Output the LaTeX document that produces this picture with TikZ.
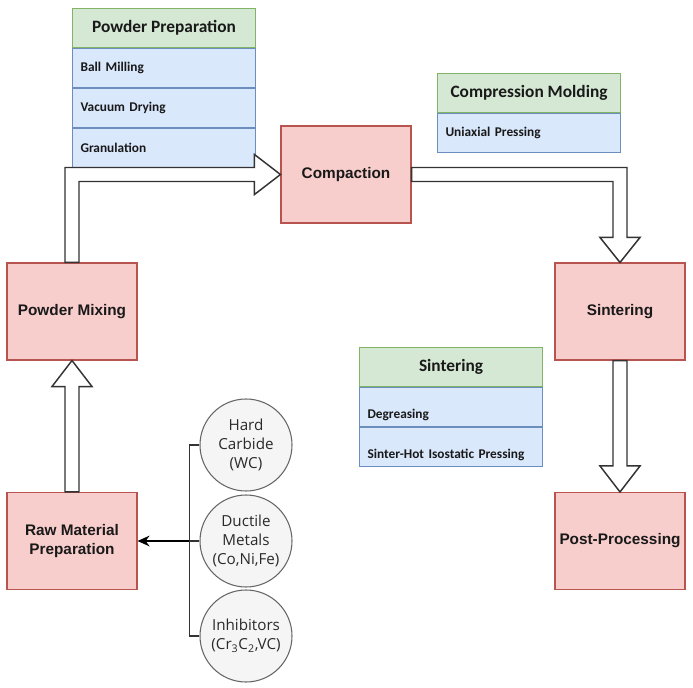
\documentclass[tikz,border=0pt]{standalone}
\usepackage{fontspec}
\setmainfont{Liberation Sans}
\newfontfamily\tabfont{Carlito}
\newfontfamily\circfont{Open Sans}
\usetikzlibrary{calc,arrows.meta}
\definecolor{pinkfill}{HTML}{F8CECC}
\definecolor{pinkdraw}{HTML}{B85450}
\definecolor{greenfill}{HTML}{D5E8D4}
\definecolor{greendraw}{HTML}{82B366}
\definecolor{bluefill}{HTML}{DAE8FC}
\definecolor{bluedraw}{HTML}{6C8EBF}
\definecolor{greyfill}{HTML}{F5F5F5}
\definecolor{greydraw}{HTML}{666666}
\definecolor{darktext}{HTML}{2A2A2A}
\tikzset{
  procbox/.style={rectangle, draw=pinkdraw, fill=pinkfill, line width=0.8pt,
    minimum width=97.5pt, minimum height=72.75pt, align=center,
    font=\fontsize{11.5}{14}\selectfont\bfseries, text=black!90},
  hdr/.style={rectangle, draw=greendraw, fill=greenfill, line width=0.8pt,
    minimum width=137.25pt, minimum height=29.25pt, inner sep=0pt,
    font=\tabfont\fontsize{13}{15}\selectfont\bfseries, text=black!90},
  rowbox/.style={rectangle, draw=bluedraw, fill=bluefill, line width=0.8pt,
    text width=125.25pt, inner xsep=6pt, inner ysep=0pt, align=left,
    minimum height=29.25pt, font=\tabfont\fontsize{10}{12}\selectfont\bfseries, text=black!90},
  rowlow/.style={rowbox, text height=19pt, text depth=2pt},
  circ/.style={circle, draw=greydraw, fill=greyfill, line width=0.8pt,
    minimum size=69pt, inner sep=0pt, align=center,
    font=\circfont\fontsize{11.4}{14.25}\selectfont, text=darktext},
  blockarrow/.style={draw=black!80, fill=white, line width=1.1pt, line join=miter},
}
\begin{document}
\begin{tikzpicture}[x=0.75pt,y=-0.75pt]
\useasboundingbox (0,0) rectangle (693,688);
\fill[white] (0,0) rectangle (693,688);

% process boxes
\node[procbox] (comp) at (346,174.5) {Compaction};
\node[procbox] (mix) at (72,311.5) {Powder Mixing};
\node[procbox] (sint) at (620,311.5) {Sintering};
\node[procbox] (post) at (620,541) {Post-Processing};
\node[procbox] (raw) at (72,541) {Raw Material\\Preparation};

% tables
\node[hdr, anchor=north west] (pp) at (72,8) {Powder Preparation};
\node[rowbox, anchor=north west] (pp1) at (pp.south west) {Ball Milling};
\node[rowbox, anchor=north west] (pp2) at (pp1.south west) {Vacuum Drying};
\node[rowbox, anchor=north west] (pp3) at (pp2.south west) {Granulation};

\node[hdr, anchor=north west] (cm) at (437,73) {Compression Molding};
\node[rowbox, anchor=north west] (cm1) at (cm.south west) {Uniaxial Pressing};

\node[hdr, anchor=north west] (st) at (359,347) {Sintering};
\node[rowlow, anchor=north west] (st1) at (st.south west) {Degreasing};
\node[rowlow, anchor=north west] (st2) at (st1.south west) {Sinter-Hot Isostatic Pressing};

% circles
\node[circ] (c1) at (246,445) {Hard\\Carbide\\(WC)};
\node[circ] (c2) at (246,541) {Ductile\\Metals\\(Co,Ni,Fe)};
\node[circ] (c3) at (246,636) {Inhibitors\\(Cr\textsubscript{3}C\textsubscript{2},VC)};

% bracket and arrow
\coordinate (br) at ($(c2.west)+(-10,0)$);
\draw[black!80, line width=0.8pt] (c1.west) -- ++(-10,0) |- (c3.west);
\draw[black!80, line width=0.8pt] (c2.west) -- (br);
\draw[black, line width=1.3pt, -{Stealth[length=9pt,width=8pt]}] (br) -- (raw.east);

% block arrows
\draw[blockarrow] ($(raw.north)+(-7,0)$) -- ($(mix.south)+(-7,26)$) -- ($(mix.south)+(-20,26)$)
  -- (mix.south) -- ($(mix.south)+(20,26)$) -- ($(mix.south)+(7,26)$) -- ($(raw.north)+(7,0)$) -- cycle;

\draw[blockarrow] ($(mix.north)+(-7,0)$) -- ($(mix.north |- comp.west)+(-7,-7)$)
  -- ($(comp.west)+(-26,-7)$) -- ($(comp.west)+(-26,-20)$) -- (comp.west)
  -- ($(comp.west)+(-26,20)$) -- ($(comp.west)+(-26,7)$)
  -- ($(mix.north |- comp.west)+(7,7)$) -- ($(mix.north)+(7,0)$) -- cycle;

\draw[blockarrow] ($(comp.east)+(0,-7)$) -- ($(sint.north |- comp.east)+(7,-7)$)
  -- ($(sint.north)+(7,-25)$) -- ($(sint.north)+(20,-25)$) -- (sint.north)
  -- ($(sint.north)+(-20,-25)$) -- ($(sint.north)+(-7,-25)$)
  -- ($(sint.north |- comp.east)+(-7,7)$) -- ($(comp.east)+(0,7)$) -- cycle;

\draw[blockarrow] ($(sint.south)+(-7,0)$) -- ($(post.north)+(-7,-26)$) -- ($(post.north)+(-20,-26)$)
  -- (post.north) -- ($(post.north)+(20,-26)$) -- ($(post.north)+(7,-26)$) -- ($(sint.south)+(7,0)$) -- cycle;
\end{tikzpicture}
\end{document}
